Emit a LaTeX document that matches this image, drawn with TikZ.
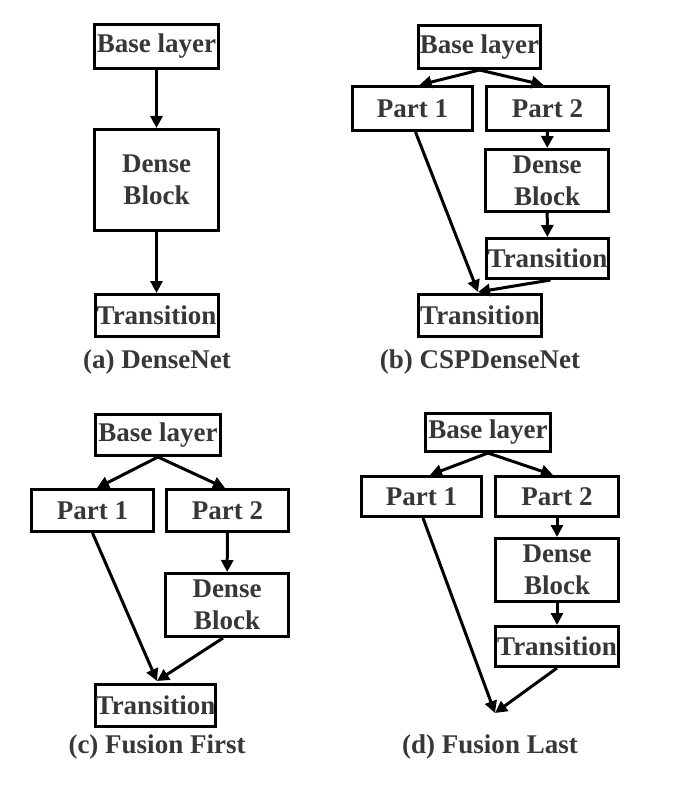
\documentclass[tikz,border=0pt]{standalone}
\usepackage{fontspec}
\setmainfont{Liberation Serif}
\usetikzlibrary{arrows.meta,calc}
\definecolor{txt}{RGB}{55,55,55}
\begin{document}
\begin{tikzpicture}[x=1pt,y=-1pt,
  box/.style={draw=black,line width=3pt,inner sep=0pt,text=txt,align=center,
    font=\fontsize{27}{32}\selectfont\bfseries},
  captext/.style={inner sep=0pt,text=txt,font=\fontsize{27}{32}\selectfont\bfseries},
  arr/.style={line width=3pt,-{Triangle[length=12pt,width=12pt]}}]
\useasboundingbox[fill=white] (0,0) rectangle (678,802);
% (a)
\node[box,minimum width=124pt,minimum height=44pt] (a1) at (156.5,46.5) {Base layer};
\node[box,minimum width=124pt,minimum height=101pt] (a2) at (156.5,180) {Dense\\Block};
\node[box,minimum width=123pt,minimum height=42pt] (a3) at (156.5,315.5) {Transition};
\node[captext] (ac) at (157,362) {(a) DenseNet};
\draw[arr] (a1) -- (a2);
\draw[arr] (a2) -- (a3);
% (b)
\node[box,minimum width=122pt,minimum height=43pt] (b1) at (479.5,47) {Base layer};
\node[box,minimum width=120pt,minimum height=44pt] (b2) at (412.5,108.5) {Part 1};
\node[box,minimum width=122pt,minimum height=44pt] (b3) at (547.5,108.5) {Part 2};
\node[box,minimum width=123pt,minimum height=62pt] (b4) at (547,180.5) {Dense\\Block};
\node[box,minimum width=122pt,minimum height=40pt] (b5) at (547.5,258.5) {Transition};
\node[box,minimum width=123pt,minimum height=42pt] (b6) at (480,315.5) {Transition};
\node[captext] (bc) at (480,362) {(b) CSPDenseNet};
\draw[arr] (b1.south) -- ($(b2.north)+(7,0)$);
\draw[arr] (b1.south) -- ($(b3.north)+(-4,0)$);
\draw[arr] (b3) -- (b4);
\draw[arr] (b4) -- (b5);
\draw[arr] ($(b2.south)+(3,0)$) -- ($(b6.north)+(-2,-1)$);
\draw[arr] ($(b5.south)+(3,0)$) -- ($(b6.north)+(-2,-1)$);
% (c)
\node[box,minimum width=125pt,minimum height=41pt] (c1) at (158,435) {Base layer};
\node[box,minimum width=122pt,minimum height=42pt] (c2) at (92.5,510.5) {Part 1};
\node[box,minimum width=122pt,minimum height=42pt] (c3) at (227.5,510.5) {Part 2};
\node[box,minimum width=123pt,minimum height=63pt] (c4) at (227,605) {Dense\\Block};
\node[box,minimum width=120pt,minimum height=42pt] (c5) at (155.5,705.5) {Transition};
\node[captext] (cc) at (157,747) {(c) Fusion First};
\draw[arr] (c1.south) -- ($(c2.north)+(4.5,0)$);
\draw[arr] (c1.south) -- ($(c3.north)+(-2.5,0)$);
\draw[arr] (c3) -- (c4);
\draw[arr] (c2.south) -- ($(c5.north)+(1.5,-2)$);
\draw[arr] ($(c4.south)+(-4,0)$) -- ($(c5.north)+(1.5,-2)$);
% (d)
\node[box,minimum width=125pt,minimum height=38pt] (d1) at (488,432.5) {Base layer};
\node[box,minimum width=120pt,minimum height=40pt] (d2) at (421.5,496.5) {Part 1};
\node[box,minimum width=123pt,minimum height=40pt] (d3) at (557,496.5) {Part 2};
\node[box,minimum width=123pt,minimum height=63pt] (d4) at (557,570) {Dense\\Block};
\node[box,minimum width=123pt,minimum height=40pt] (d5) at (557,646.5) {Transition};
\coordinate (dm) at (495,713);
\node[captext] (dc) at (490,747) {(d) Fusion Last};
\draw[arr] (d1.south) -- ($(d2.north)+(8.5,0)$);
\draw[arr] (d1.south) -- ($(d3.north)+(-4,0)$);
\draw[arr] (d3) -- (d4);
\draw[arr] (d4) -- (d5);
\draw[arr] ($(d2.south)+(1.5,0)$) -- (dm);
\draw[arr] (d5.south) -- (dm);
\end{tikzpicture}
\end{document}
